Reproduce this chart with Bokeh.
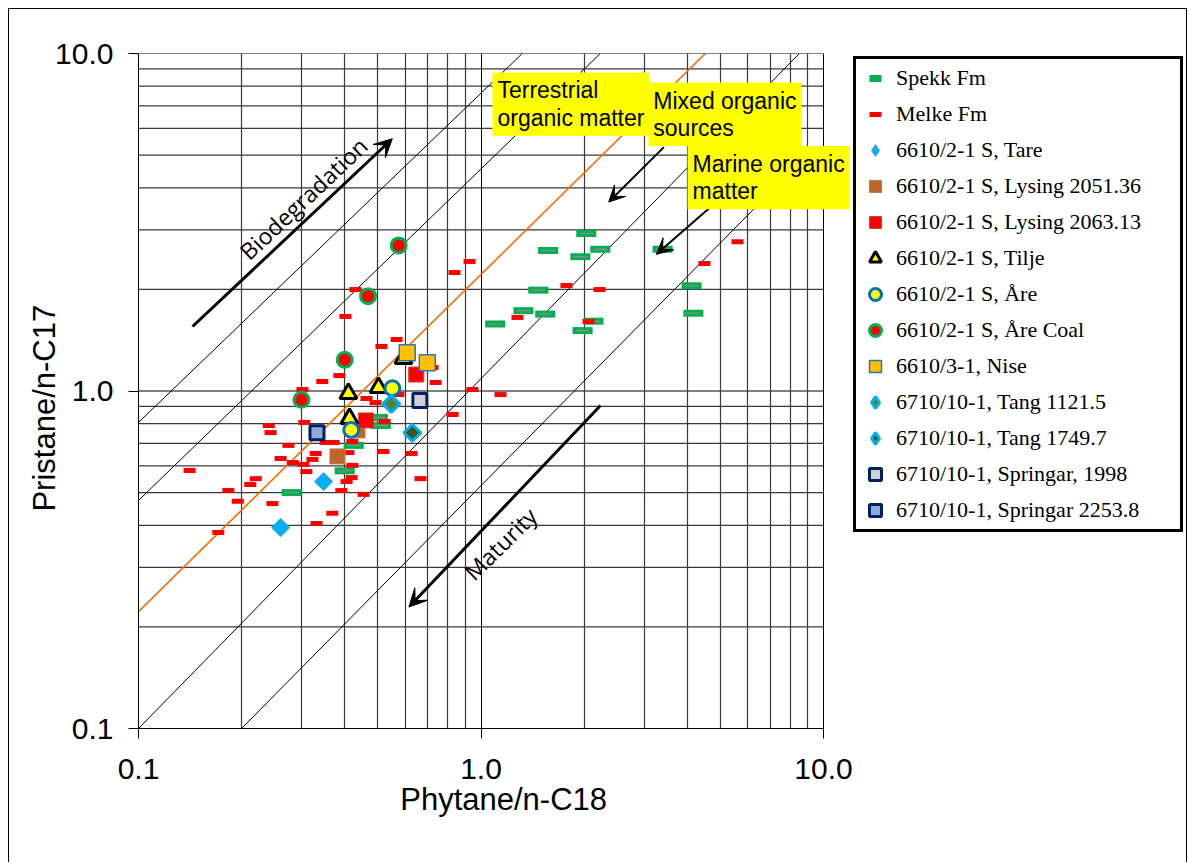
import math
from bokeh.plotting import figure
from bokeh.models import (FixedTicker, Label, Arrow, VeeHead, Legend, LegendItem, Range1d)
from bokeh.embed import file_html
from bokeh.resources import INLINE

# ---------------- data ----------------
major_ticks = [0.1, 1.0, 10.0]
tick_labels = ["0.1", "1.0", "10.0"]
minor_ticks = [0.2, 0.3, 0.4, 0.5, 0.6, 0.7, 0.8, 0.9, 2, 3, 4, 5, 6, 7, 8, 9]

spekk_x = [0.28, 0.40, 0.425, 0.50, 0.51, 1.10, 1.33, 1.47, 1.54, 1.57, 1.95, 2.03, 2.23, 2.13, 1.98, 3.39, 4.12, 4.17]
spekk_y = [0.50, 0.58, 0.69, 0.835, 0.79, 1.58, 1.73, 1.99, 1.69, 2.61, 2.50, 2.93, 2.63, 1.61, 1.51, 2.63, 2.05, 1.70]

melke_x = [0.926, 0.837, 0.430, 0.402, 0.567, 0.512, 0.386, 0.344, 0.301, 0.737, 0.944, 0.463, 0.492, 0.574,
           0.305, 0.240, 0.243, 0.523, 0.826, 0.352, 0.371, 0.421, 0.274, 0.329, 0.410, 0.519, 0.260, 0.322,
           0.282, 0.627, 0.303, 0.421, 0.141, 0.309, 0.220, 0.419, 0.666, 0.212, 0.405, 0.183, 0.391, 0.454,
           0.195, 0.246, 0.368, 0.331, 0.171, 5.61, 4.49, 1.776, 2.218, 1.278, 2.06, 1.14, 0.722]
melke_y = [2.42, 2.244, 1.998, 1.663, 1.421, 1.355, 1.111, 1.067, 1.010, 1.060, 1.010, 0.950, 0.924, 0.976,
           0.807, 0.790, 0.753, 0.812, 0.852, 0.704, 0.704, 0.709, 0.690, 0.653, 0.657, 0.662, 0.631, 0.627,
           0.614, 0.653, 0.606, 0.602, 0.581, 0.577, 0.550, 0.554, 0.550, 0.528, 0.539, 0.507, 0.507, 0.494,
           0.471, 0.464, 0.434, 0.405, 0.381, 2.77, 2.387, 2.054, 1.998, 1.652, 1.607, 0.976, 1.174]

tare_x, tare_y = [0.347, 0.260], [0.539, 0.394]
lys2051_x, lys2051_y = [0.381, 0.436], [0.640, 0.764]
lys2063_x, lys2063_y = [0.647, 0.462], [1.119, 0.818]
tilje_x, tilje_y = [0.410, 0.502, 0.413, 0.594], [0.983, 1.024, 0.829, 1.248]
are_x, are_y = [0.551, 0.418], [1.019, 0.767]
arecoal_x, arecoal_y = [0.575, 0.468, 0.400, 0.299], [2.70, 1.909, 1.237, 0.942]
nise_x, nise_y = [0.609, 0.697], [1.298, 1.212]
tang1121_x, tang1121_y = [0.547], [0.916]
tang1749_x, tang1749_y = [0.630], [0.752]
spr1998_x, spr1998_y = [0.663], [0.937]
spr2253_x, spr2253_y = [0.332], [0.752]

# guide lines (end points in data units)
guide_xs = [[0.1, 1.32], [0.1, 2.23], [0.1, 8.5], [0.2, 7.5]]
guide_ys = [[0.807, 10.0], [0.474, 10.0], [0.1, 10.0], [0.1, 4.17]]
orange_x = [0.1, 4.52]
orange_y = [0.222, 10.0]

# ---------------- layout ----------------
W, H = 1187, 862
left_b, top_b, bottom_b = 138, 53, 134
decade_px = 342.5  # 0.1 .. 10 over 685 px
x_max = 10 ** (-1 + (W - left_b) / decade_px)   # frame runs to the canvas edge, axis stops at 10

p = figure(width=W, height=H, x_axis_type="log", y_axis_type="log",
           x_range=Range1d(0.1, x_max), y_range=Range1d(0.1, 10),
           output_backend="svg", toolbar_location=None,
           min_border_left=left_b, min_border_right=0, min_border_top=top_b, min_border_bottom=bottom_b)
p.border_fill_color = None
p.background_fill_color = None
p.outline_line_color = None
p.styles = {"box-shadow": "inset 8px 8px 0 0 #fff, inset 9px 9px 0 0 #000, inset -1px 0 0 0 #000",
            "background": "white"}

NB = "\u00a0"
tk = FixedTicker(ticks=major_ticks, minor_ticks=minor_ticks)
for ax in (p.xaxis[0], p.yaxis[0]):
    ax.ticker = tk
    ax.bounds = (0.1, 10)
    ax.major_label_overrides = {t: l for t, l in zip(major_ticks, tick_labels)}
    ax.major_label_text_font = "Liberation Sans"
    ax.major_label_text_font_size = "30px"
    ax.major_label_text_color = "black"
    ax.axis_label_text_font = "Liberation Sans"
    ax.axis_label_text_font_size = "31px"
    ax.axis_label_text_font_style = "normal"
    ax.axis_label_text_color = "black"
    ax.axis_line_color = "black"
    ax.major_tick_line_color = "black"
    ax.major_tick_out = 10
    ax.major_tick_in = 0
    ax.minor_tick_line_color = None
# the frame is wider than the axis; non-breaking spaces keep the label centred under 0.1..10
p.xaxis.axis_label = "Phytane/n-C18" + NB * 37
p.yaxis.axis_label = "Pristane/n-C17" + NB * 4
p.xaxis.major_label_standoff = 20
p.yaxis.major_label_standoff = 15
p.xaxis.axis_label_standoff = 0
p.yaxis.axis_label_standoff = -10

# vertical grid lines from the grid; horizontal ones drawn only across 0.1..10
p.xgrid.ticker = tk
p.xgrid.grid_line_color = "black"
p.xgrid.grid_line_width = 1
p.xgrid.minor_grid_line_color = "#3a3a3a"
p.xgrid.minor_grid_line_width = 1.2
p.ygrid.visible = False
p.segment(x0=[0.1] * len(minor_ticks), y0=minor_ticks, x1=[10] * len(minor_ticks), y1=minor_ticks,
          line_color="#3a3a3a", line_width=1.2, level="underlay")
p.segment(x0=[0.1] * len(major_ticks), y0=major_ticks, x1=[10] * len(major_ticks), y1=major_ticks,
          line_color="black", line_width=1.2, level="underlay")

# guide lines
p.multi_line(xs=guide_xs, ys=guide_ys, line_color="black", line_width=1)
p.line(orange_x, orange_y, line_color="#FF6A00", line_width=1.6)

# series
r_spekk = p.scatter(spekk_x, spekk_y, marker="dash", size=20, line_width=7, line_color="#00B050")
r_spekk2 = p.scatter(spekk_x, spekk_y, marker="dash", size=14, line_width=1.3, line_color="#8C8C8C")
r_melke = p.scatter(melke_x, melke_y, marker="dash", size=12, line_width=5, line_color="#FF0000")

tare_style = dict(fill_color="#00B0F0", line_color="#4BA3D8", line_width=1)
t1_style = dict(fill_color="#548235", line_color="#00B0F0", line_width=3)
t2_style = dict(fill_color="#375623", line_color="#00B0F0", line_width=3)

# diamond glyphs (used as legend swatches, hidden under the square-diamonds drawn on top)
k_tare = p.scatter(tare_x, tare_y, marker="diamond", size=13, **tare_style)
k_t1 = p.scatter(tang1121_x, tang1121_y, marker="diamond", size=12, **t1_style)
k_t2 = p.scatter(tang1749_x, tang1749_y, marker="diamond", size=12, **t2_style)

r_tare = p.scatter(tare_x, tare_y, marker="square", angle=math.pi / 4, size=13, **tare_style)
r_l1 = p.scatter(lys2051_x, lys2051_y, marker="square", size=15,
                 fill_color="#C0652C", line_color="#C87A50", line_width=1)
r_l2 = p.scatter(lys2063_x, lys2063_y, marker="square", size=15,
                 fill_color="#FF0000", line_color="#D04040", line_width=1)
r_tilje = p.scatter(tilje_x, tilje_y, marker="triangle", size=17,
                    fill_color="#FFFF00", line_color="black", line_width=3)
r_are = p.scatter(are_x, are_y, marker="circle", size=15,
                  fill_color="#FFFF00", line_color="#0070C0", line_width=3)
r_arec = p.scatter(arecoal_x, arecoal_y, marker="circle", size=15,
                   fill_color="#FF0000", line_color="#00B050", line_width=3)
r_nise = p.scatter(nise_x, nise_y, marker="square", size=16,
                   fill_color="#FFC000", line_color="#2E75B6", line_width=1.5)
r_t1 = p.scatter(tang1121_x, tang1121_y, marker="square", angle=math.pi / 4, size=12, **t1_style)
r_t2 = p.scatter(tang1749_x, tang1749_y, marker="square", angle=math.pi / 4, size=12, **t2_style)
r_s1 = p.scatter(spr1998_x, spr1998_y, marker="square", size=14,
                 fill_color="#D0D0D0", line_color="#002060", line_width=3)
r_s2 = p.scatter(spr2253_x, spr2253_y, marker="square", size=14,
                 fill_color="#8EA9DB", line_color="#002060", line_width=3)

# arrows
p.add_layout(Arrow(end=VeeHead(size=18, fill_color="black", line_color="black"),
                   x_start=0.1438, y_start=1.553, x_end=0.551, y_end=5.59,
                   line_color="black", line_width=3))
p.add_layout(Arrow(end=VeeHead(size=18, fill_color="black", line_color="black"),
                   x_start=2.233, y_start=0.906, x_end=0.616, y_end=0.229,
                   line_color="black", line_width=3))
p.add_layout(Arrow(end=VeeHead(size=16, fill_color="black", line_color="black"),
                   x_start=3.42, y_start=5.28, x_end=2.36, y_end=3.63,
                   line_color="black", line_width=2))
p.add_layout(Arrow(end=VeeHead(size=16, fill_color="black", line_color="black"),
                   x_start=5.00, y_start=3.72, x_end=3.25, y_end=2.54,
                   line_color="black", line_width=2))

# rotated texts
p.add_layout(Label(x=0.303, y=3.72, text="Biodegradation", angle=0.757,
                   text_align="center", text_baseline="middle",
                   text_font="Open Sans", text_font_size="23px", text_color="black"))
p.add_layout(Label(x=1.14, y=0.353, text="Maturity", angle=0.78,
                   text_align="center", text_baseline="middle",
                   text_font="Open Sans", text_font_size="23px", text_color="black"))

# yellow boxes
for (bx, by, txt) in [(1.08, 8.786, "Terrestrial\norganic matter"),
                      (3.08, 8.2, "Mixed organic\nsources"),
                      (4.01, 5.32, "Marine organic\nmatter")]:
    p.add_layout(Label(x=bx, y=by, text=txt, text_align="left", text_baseline="top",
                       text_font="Liberation Sans", text_font_size="23px", text_color="black",
                       background_fill_color="#FFFF00", padding=5, text_line_height=1.05))

items = [
    LegendItem(label="Spekk Fm", renderers=[r_spekk]),
    LegendItem(label="Melke Fm", renderers=[r_melke]),
    LegendItem(label="6610/2-1 S, Tare", renderers=[k_tare]),
    LegendItem(label="6610/2-1 S, Lysing 2051.36", renderers=[r_l1]),
    LegendItem(label="6610/2-1 S, Lysing 2063.13", renderers=[r_l2]),
    LegendItem(label="6610/2-1 S, Tilje", renderers=[r_tilje]),
    LegendItem(label="6610/2-1 S, Åre", renderers=[r_are]),
    LegendItem(label="6610/2-1 S, Åre Coal", renderers=[r_arec]),
    LegendItem(label="6610/3-1, Nise", renderers=[r_nise]),
    LegendItem(label="6710/10-1, Tang 1121.5", renderers=[k_t1]),
    LegendItem(label="6710/10-1, Tang 1749.7", renderers=[k_t2]),
    LegendItem(label="6710/10-1, Springar, 1998", renderers=[r_s1]),
    LegendItem(label="6710/10-1, Springar 2253.8", renderers=[r_s2]),
]
legend = Legend(items=items, location=(715, 196), border_line_color="black", border_line_width=3,
                border_line_alpha=1, padding=4, spacing=6, glyph_width=30, glyph_height=30,
                label_height=22, label_width=280, label_standoff=6,
                label_text_font="Liberation Serif", label_text_font_size="22px",
                label_text_color="black",
                margin=0, background_fill_color="white", background_fill_alpha=1)
p.add_layout(legend)

open("out.html", "w").write(file_html(p, INLINE))
